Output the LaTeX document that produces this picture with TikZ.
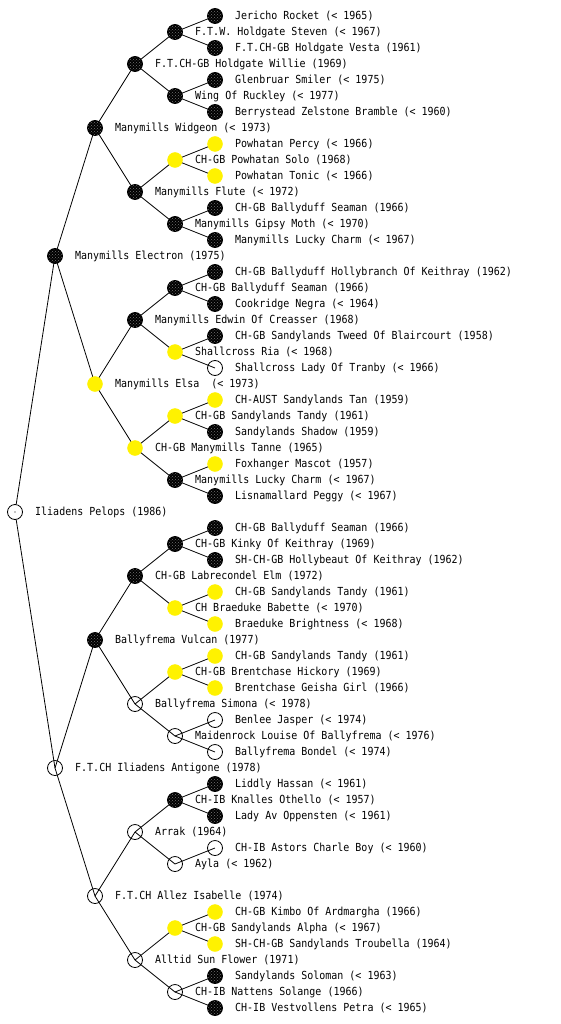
\documentclass[tikz,border=0pt]{standalone}
\usepackage{fontspec}
\newfontfamily\labfont[FakeStretch=0.9]{DejaVu Sans Mono}
\usetikzlibrary{backgrounds,patterns}
\tikzset{
 pn/.style={circle, minimum size=15pt, inner sep=0pt},
 wn/.style={pn, draw=black, line width=0.8pt},
 bn/.style={pn, draw=black, preaction={fill=black}, pattern=crosshatch dots, pattern color=white!45!black, line width=0.8pt},
 yn/.style={pn, draw=yellow, fill=yellow},
 lab/.style={anchor=west, inner sep=0pt, font=\labfont\fontsize{11.1}{13}\selectfont},
 conn/.style={draw=black, line width=0.8pt}
}
\newcommand\pn[5]{\node[#4] (#1) at (#2,#3) {}; \node[lab] (#1t) at (#2+20,#3) {#5};}
\begin{document}
\begin{tikzpicture}[x=1pt,y=-1pt]
\useasboundingbox (0,0) rectangle (560,1024);
% generation 0
\pn{r}{15}{512}{wn}{Iliadens Pelops (1986)}
\fill (r.center) circle (0.6pt);
% generation 1
\pn{a0}{55}{256}{bn}{Manymills Electron (1975)}
\pn{a1}{55}{768}{wn}{F.T.CH Iliadens Antigone (1978)}
% generation 2
\pn{b0}{95}{128}{bn}{Manymills Widgeon (< 1973)}
\pn{b1}{95}{384}{yn}{Manymills Elsa~~(< 1973)}
\pn{b2}{95}{640}{bn}{Ballyfrema Vulcan (1977)}
\pn{b3}{95}{896}{wn}{F.T.CH Allez Isabelle (1974)}
% generation 3
\pn{c0}{135}{64}{bn}{F.T.CH-GB Holdgate Willie (1969)}
\pn{c1}{135}{192}{bn}{Manymills Flute (< 1972)}
\pn{c2}{135}{320}{bn}{Manymills Edwin Of Creasser (1968)}
\pn{c3}{135}{448}{yn}{CH-GB Manymills Tanne (1965)}
\pn{c4}{135}{576}{bn}{CH-GB Labrecondel Elm (1972)}
\pn{c5}{135}{704}{wn}{Ballyfrema Simona (< 1978)}
\pn{c6}{135}{832}{wn}{Arrak (1964)}
\pn{c7}{135}{960}{wn}{Alltid Sun Flower (1971)}
% generation 4
\pn{d0}{175}{32}{bn}{F.T.W. Holdgate Steven (< 1967)}
\pn{d1}{175}{96}{bn}{Wing Of Ruckley (< 1977)}
\pn{d2}{175}{160}{yn}{CH-GB Powhatan Solo (1968)}
\pn{d3}{175}{224}{bn}{Manymills Gipsy Moth (< 1970)}
\pn{d4}{175}{288}{bn}{CH-GB Ballyduff Seaman (1966)}
\pn{d5}{175}{352}{yn}{Shallcross Ria (< 1968)}
\pn{d6}{175}{416}{yn}{CH-GB Sandylands Tandy (1961)}
\pn{d7}{175}{480}{bn}{Manymills Lucky Charm (< 1967)}
\pn{d8}{175}{544}{bn}{CH-GB Kinky Of Keithray (1969)}
\pn{d9}{175}{608}{yn}{CH Braeduke Babette (< 1970)}
\pn{d10}{175}{672}{yn}{CH-GB Brentchase Hickory (1969)}
\pn{d11}{175}{736}{wn}{Maidenrock Louise Of Ballyfrema (< 1976)}
\pn{d12}{175}{800}{bn}{CH-IB Knalles Othello (< 1957)}
\pn{d13}{175}{864}{wn}{Ayla (< 1962)}
\pn{d14}{175}{928}{yn}{CH-GB Sandylands Alpha (< 1967)}
\pn{d15}{175}{992}{wn}{CH-IB Nattens Solange (1966)}
% generation 5
\pn{e0}{215}{16}{bn}{Jericho Rocket (< 1965)}
\pn{e1}{215}{48}{bn}{F.T.CH-GB Holdgate Vesta (1961)}
\pn{e2}{215}{80}{bn}{Glenbruar Smiler (< 1975)}
\pn{e3}{215}{112}{bn}{Berrystead Zelstone Bramble (< 1960)}
\pn{e4}{215}{144}{yn}{Powhatan Percy (< 1966)}
\pn{e5}{215}{176}{yn}{Powhatan Tonic (< 1966)}
\pn{e6}{215}{208}{bn}{CH-GB Ballyduff Seaman (1966)}
\pn{e7}{215}{240}{bn}{Manymills Lucky Charm (< 1967)}
\pn{e8}{215}{272}{bn}{CH-GB Ballyduff Hollybranch Of Keithray (1962)}
\pn{e9}{215}{304}{bn}{Cookridge Negra (< 1964)}
\pn{e10}{215}{336}{bn}{CH-GB Sandylands Tweed Of Blaircourt (1958)}
\pn{e11}{215}{368}{wn}{Shallcross Lady Of Tranby (< 1966)}
\pn{e12}{215}{400}{yn}{CH-AUST Sandylands Tan (1959)}
\pn{e13}{215}{432}{bn}{Sandylands Shadow (1959)}
\pn{e14}{215}{464}{yn}{Foxhanger Mascot (1957)}
\pn{e15}{215}{496}{bn}{Lisnamallard Peggy (< 1967)}
\pn{e16}{215}{528}{bn}{CH-GB Ballyduff Seaman (1966)}
\pn{e17}{215}{560}{bn}{SH-CH-GB Hollybeaut Of Keithray (1962)}
\pn{e18}{215}{592}{yn}{CH-GB Sandylands Tandy (1961)}
\pn{e19}{215}{624}{yn}{Braeduke Brightness (< 1968)}
\pn{e20}{215}{656}{yn}{CH-GB Sandylands Tandy (1961)}
\pn{e21}{215}{688}{yn}{Brentchase Geisha Girl (1966)}
\pn{e22}{215}{720}{wn}{Benlee Jasper (< 1974)}
\pn{e23}{215}{752}{wn}{Ballyfrema Bondel (< 1974)}
\pn{e24}{215}{784}{bn}{Liddly Hassan (< 1961)}
\pn{e25}{215}{816}{bn}{Lady Av Oppensten (< 1961)}
\pn{e26}{215}{848}{wn}{CH-IB Astors Charle Boy (< 1960)}
\pn{e28}{215}{912}{yn}{CH-GB Kimbo Of Ardmargha (1966)}
\pn{e29}{215}{944}{yn}{SH-CH-GB Sandylands Troubella (1964)}
\pn{e30}{215}{976}{bn}{Sandylands Soloman (< 1963)}
\pn{e31}{215}{1008}{bn}{CH-IB Vestvollens Petra (< 1965)}
\begin{pgfonlayer}{background}
\draw[conn] (r) -- (a0.center);
\draw[conn] (r) -- (a1.center);
\draw[conn] (a0.center) -- (b0.center);
\draw[conn] (a0.center) -- (b1.center);
\draw[conn] (a1.center) -- (b2.center);
\draw[conn] (a1.center) -- (b3.center);
\foreach \k in {0,...,3}{
  \pgfmathtruncatemacro\ia{2*\k}\pgfmathtruncatemacro\ib{2*\k+1}
  \draw[conn] (b\k.center) -- (c\ia.center);
  \draw[conn] (b\k.center) -- (c\ib.center);
}
\foreach \k in {0,...,7}{
  \pgfmathtruncatemacro\ia{2*\k}\pgfmathtruncatemacro\ib{2*\k+1}
  \draw[conn] (c\k.center) -- (d\ia.center);
  \draw[conn] (c\k.center) -- (d\ib.center);
}
\foreach \k in {0,...,15}{
  \pgfmathtruncatemacro\ia{2*\k}\pgfmathtruncatemacro\ib{2*\k+1}
  \draw[conn] (d\k.center) -- (e\ia.center);
  \ifnum\k=13\relax\else\draw[conn] (d\k.center) -- (e\ib.center);\fi
}
\end{pgfonlayer}
\end{tikzpicture}
\end{document}
